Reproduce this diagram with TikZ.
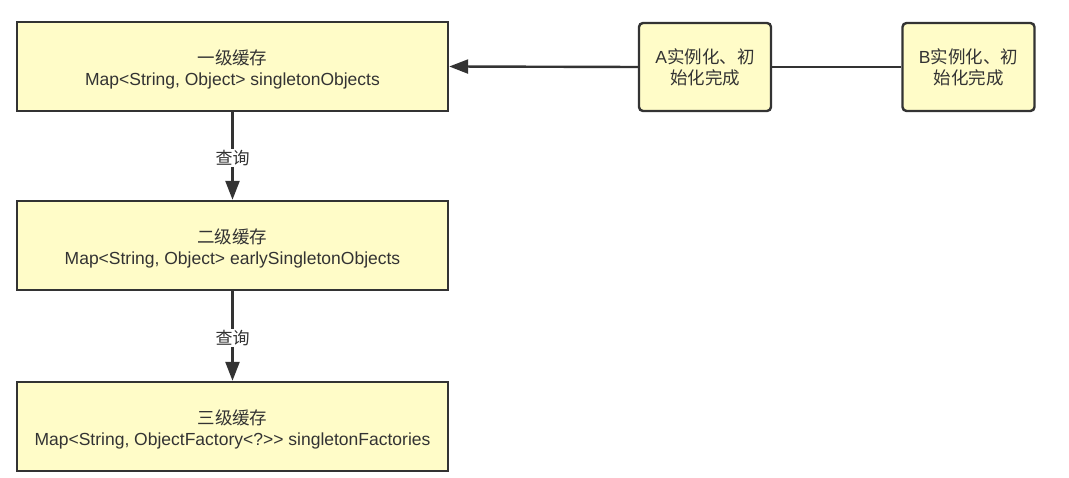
\documentclass[tikz,border=0pt]{standalone}
\usepackage{fontspec}
\setmainfont{Liberation Sans}
\newfontfamily\cjk{Noto Sans CJK SC}
\usetikzlibrary{arrows.meta}
\definecolor{boxfill}{RGB}{255,252,200}
\definecolor{ink}{RGB}{51,51,51}
\begin{document}
\begin{tikzpicture}[x=1pt,y=-1pt,
  font=\fontsize{17.5}{21}\selectfont, text=ink,
  cache/.style={draw=ink, line width=2.4pt, fill=boxfill, minimum width=431pt, minimum height=89pt, inner sep=0pt},
  txt/.style={align=center, inner sep=0pt},
  state/.style={draw=ink, line width=2.4pt, fill=boxfill, rounded corners=4pt, minimum width=132pt, minimum height=88pt, inner sep=0pt, align=center},
  conn/.style={draw=ink, line width=2.4pt, -{Triangle[length=19pt,width=14pt]}},
  lbl/.style={fill=white, inner sep=1pt, font=\cjk\fontsize{17}{20}\selectfont}
]
\useasboundingbox (0,0) rectangle (1069,478);
\node[cache] (c1) at (232.5,66.5) {};
\node[txt] (t1) at ([yshift=-3pt]c1.center) {{\cjk 一级缓存}\\Map<String, Object> singletonObjects};
\node[cache] (c2) at (232.5,245.5) {};
\node[txt] (t2) at ([yshift=-3pt]c2.center) {{\cjk 二级缓存}\\Map<String, Object> earlySingletonObjects};
\node[cache] (c3) at (232.5,426.5) {};
\node[txt] (t3) at ([yshift=-3pt]c3.center) {{\cjk 三级缓存}\\Map<String, ObjectFactory<?>{}> singletonFactories};
\node[state] (a) at (705,67) {A{\cjk 实例化、初}\\{\cjk 始化完成}};
\node[state] (b) at (968.5,67) {B{\cjk 实例化、初}\\{\cjk 始化完成}};
\draw[conn] (c1.south) -- node[lbl, pos=0.52] {查询} (c2.north);
\draw[conn] (c2.south) -- node[lbl, pos=0.52] {查询} (c3.north);
\draw[conn] (a.west) -- (c1.east);
\draw[draw=ink, line width=2pt] (a.east) -- (b.west);
\end{tikzpicture}
\end{document}
